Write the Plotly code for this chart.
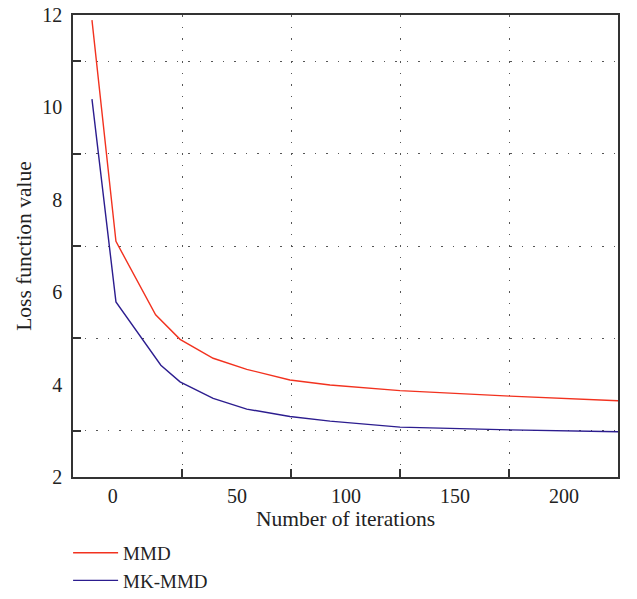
import plotly.graph_objects as go

# Data (x in the chart's own axis frame)
mmd_x = [-16.5, -5.5, 12.7, 23.9, 39.1, 54.5, 74.3, 92.7, 124.8, 175.2, 224.8]
mmd_y = [11.89, 7.10, 5.51, 4.98, 4.57, 4.33, 4.10, 3.99, 3.87, 3.75, 3.65]
mkmmd_x = [-16.5, -5.5, 15.1, 23.9, 39.1, 54.5, 74.3, 92.7, 124.8, 175.2, 224.8]
mkmmd_y = [10.18, 5.79, 4.42, 4.06, 3.70, 3.47, 3.31, 3.21, 3.08, 3.02, 2.98]

x_tick_vals = [-7, 50, 100, 150, 200]
x_tick_text = ["0", "50", "100", "150", "200"]
x_grid_vals = [25, 75, 125, 175]
y_tick_vals = [2, 4, 6, 8, 10, 12]
y_grid_vals = [3, 5, 7, 9, 11]

FONT = "Liberation Serif"
AX = "#333333"
GRID = "#555555"

fig = go.Figure()
fig.add_trace(go.Scatter(x=mmd_x, y=mmd_y, mode="lines", name="MMD",
                         line=dict(color="#f2321f", width=1.4)))
fig.add_trace(go.Scatter(x=mkmmd_x, y=mkmmd_y, mode="lines", name="MK-MMD",
                         line=dict(color="#2c1d8f", width=1.4)))

fig.update_layout(
    template="none",
    width=637, height=599,
    margin=dict(l=73, r=19, t=15, b=122, autoexpand=False),
    paper_bgcolor="white", plot_bgcolor="white",
    font=dict(family=FONT, size=20, color="#222222"),
    showlegend=True,
    legend=dict(x=-0.009, y=-0.123, xanchor="left", yanchor="top",
                orientation="v", itemwidth=45,
                font=dict(family=FONT, size=19, color="#222222"),
                bgcolor="rgba(0,0,0,0)", tracegroupgap=0),
    xaxis=dict(
        automargin=False,
        range=[-25.2, 224.8], tickmode="array", tickvals=x_tick_vals, ticktext=x_tick_text,
        ticks="", showgrid=False, zeroline=False,
        showline=True, linecolor=AX, linewidth=1.5, mirror=True,
        title=dict(text="Number of iterations", standoff=4, font=dict(size=21.5)),
        tickfont=dict(size=20),
        minor=dict(tickmode="array", tickvals=x_grid_vals, showgrid=True,
                   gridcolor=GRID, gridwidth=1.2, griddash="1.5px,10px",
                   ticks="inside", ticklen=8, tickwidth=1.5, tickcolor=AX),
    ),
    yaxis=dict(
        automargin=False,
        range=[2, 12], tickmode="array", tickvals=y_tick_vals,
        ticks="", showgrid=False, zeroline=False, ticklabelstandoff=5,
        showline=True, linecolor=AX, linewidth=1.5, mirror=True,
        title=dict(text="Loss function value", standoff=5, font=dict(size=21.5)),
        tickfont=dict(size=20),
        minor=dict(tickmode="array", tickvals=y_grid_vals, showgrid=True,
                   gridcolor=GRID, gridwidth=1.2, griddash="1.5px,10px",
                   ticks="inside", ticklen=8, tickwidth=1.5, tickcolor=AX),
    ),
)

fig.write_html("out.html",
               config={"displayModeBar": False},
               post_script="document.body.style.margin='0';document.body.style.overflow='hidden';")
